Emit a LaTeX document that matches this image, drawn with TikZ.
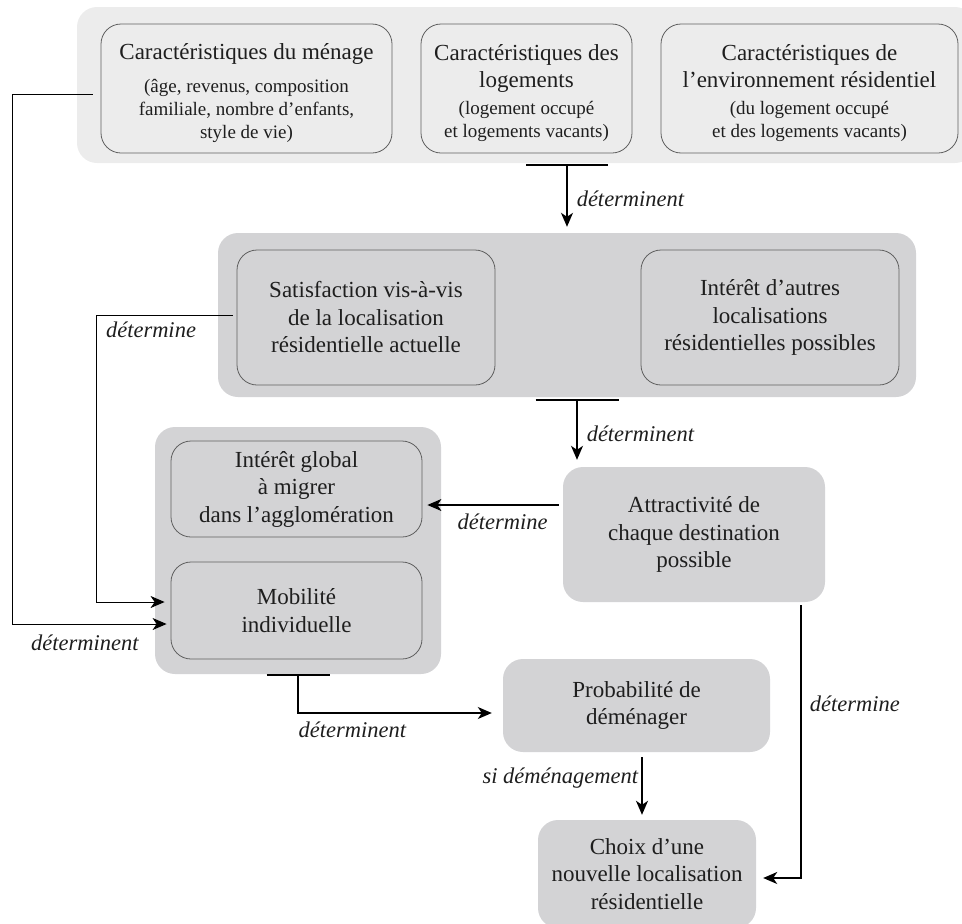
\documentclass[tikz,border=0pt]{standalone}
\usepackage{fontspec}
\setmainfont{Liberation Serif}
\usetikzlibrary{arrows.meta}
\tikzstyle{every link} = []
\tikzstyle{link} = [-{Stealth[length=14pt,width=12pt,inset=4pt]}, line width=1.5pt, draw, every link]
\tikzstyle{thin link} = [link, line width=1pt]
\tikzstyle{bar} = [line width=2.2pt]
\definecolor{clair}{RGB}{236,236,236}
\definecolor{moyen}{RGB}{211,211,213}
\definecolor{bord}{RGB}{95,95,95}
\definecolor{encre}{RGB}{30,30,30}
\newcommand{\principal}{\fontsize{23}{27.5}\selectfont}
\newcommand{\txtdetail}{\fontsize{19}{23}\selectfont}
\tikzstyle{groupe} = [rounded corners=20pt, inner sep=0pt]
\tikzstyle{boite} = [rounded corners=20pt, draw=bord, line width=0.8pt, align=center, inner sep=0pt, font=\principal, text=encre]
\tikzstyle{texte} = [align=center, inner sep=0pt, font=\principal, text=encre]
\tikzstyle{pave} = [rounded corners=20pt, fill=moyen, align=center, inner sep=0pt, font=\principal, text=encre]
\tikzstyle{etiq} = [font=\fontsize{22.5}{27}\selectfont\itshape, inner sep=2pt, text=encre]

\begin{document}
\begin{tikzpicture}[x=1pt, y=-1pt]
        \useasboundingbox (0,0) rectangle (962,924);

        \node[groupe, fill=clair, minimum width=898pt, minimum height=156pt] (carac) at (526,85) {};
        \node[groupe, fill=moyen, minimum width=698pt, minimum height=164pt] (evalu) at (567,315) {};
        \node[groupe, fill=moyen, minimum width=286pt, minimum height=247pt] (migr) at (298,550.5) {};

        \node[boite, fill=clair, minimum width=291pt, minimum height=129pt] (menage) at (246.5,88.5) {};
        \node[boite, fill=clair, minimum width=211pt, minimum height=129pt] (logement) at (526.5,88.5) {};
        \node[boite, fill=clair, minimum width=297pt, minimum height=129pt] (environ) at (809.5,88.5) {};
        \node[texte, yshift=-4.5pt] (menageT) at (menage)
            {Caractéristiques du ménage\\[5.5pt]\txtdetail (âge, revenus, composition\\[-4.5pt]\txtdetail familiale, nombre d’enfants,\\[-5pt]\txtdetail style de vie)};
        \node[texte, yshift=-4.5pt] (logementT) at (logement)
            {Caractéristiques des\\logements\\[-0.5pt]\txtdetail (logement occupé\\[-4.5pt]\txtdetail et logements vacants)};
        \node[texte, yshift=-4.5pt] (environT) at (environ)
            {Caractéristiques de\\l’environnement résidentiel\\[-0.5pt]\txtdetail (du logement occupé\\[-4.5pt]\txtdetail et des logements vacants)};

        \node[boite, fill=moyen, minimum width=258pt, minimum height=135pt] (satis) at (366,317.5) {Satisfaction vis-à-vis\\de la localisation\\résidentielle actuelle};
        \node[boite, fill=moyen, minimum width=258pt, minimum height=135pt] (autres) at (770,317.5) {Intérêt d’autres\\localisations\\résidentielles possibles};
        \node[boite, fill=moyen, minimum width=251pt, minimum height=96pt] (global) at (296.5,489) {Intérêt global\\à migrer\\dans l’agglomération};
        \node[boite, fill=moyen, minimum width=251pt, minimum height=97pt] (mobilite) at (296.5,610.5) {Mobilité\\individuelle};

        \node[pave, minimum width=262pt, minimum height=135pt] (attract) at (694,534.5) {Attractivité de\\chaque destination\\possible};
        \node[pave, minimum width=267pt, minimum height=93pt] (proba) at (636.5,705.5) {Probabilité de\\déménager};
        \node[pave, minimum width=218pt, minimum height=108pt] (choix) at (647,874) {Choix d’une\\nouvelle localisation\\résidentielle};

        \coordinate (barre1) at ([yshift=-2pt]carac.south -| evalu.north);
        \draw[bar] ([xshift=-41pt]barre1) -- ([xshift=41pt]barre1);
        \draw[link, shorten >=6pt] (barre1) -- node[right=7pt, etiq] {déterminent} (evalu.north);

        \coordinate (barre2) at ([xshift=10pt,yshift=-3pt]evalu.south);
        \draw[bar] ([xshift=-41.5pt]barre2) -- ([xshift=41.5pt]barre2);
        \draw[link, shorten >=7pt] (barre2) -- node[right=7pt, etiq] {déterminent} (barre2 |- attract.north);

        \coordinate (depart3) at ([yshift=29.5pt]attract.west);
        \draw[link, line width=1.2pt, shorten <=4pt, shorten >=5pt] (depart3) -- node[below=6pt, etiq, xshift=10pt] {détermine} (depart3 -| global.east);

        \coordinate (arriveeG) at ([xshift=-4pt,yshift=-13.5pt]mobilite.west);
        \draw[thin link] ([xshift=-8pt,yshift=-5.5pt]menage.west) -| ([xshift=-154pt]arriveeG) -- node[below=8pt, etiq, pos=0.47] {déterminent} (arriveeG);

        \coordinate (departS) at ([xshift=-4pt,yshift=2.5pt]satis.west);
        \coordinate (arriveeS) at ([xshift=-6pt,yshift=8.5pt]mobilite.west);
        \draw[thin link] (departS) -- node[below=4pt, etiq, pos=0.6] {détermine} ([xshift=-136pt]departS) |- (arriveeS);

        \coordinate (barre3) at ([yshift=-1pt]migr.south);
        \draw[bar] ([xshift=-31.5pt]barre3) -- ([xshift=31.5pt]barre3);
        \draw[link] (barre3) |- node[below=6pt, etiq, pos=0.64] {déterminent} ([xshift=-11pt,yshift=-7.5pt]proba.west);

        \coordinate (departP) at ([xshift=5.5pt]proba.south);
        \draw[link, line width=1.7pt, shorten <=5pt, shorten >=5pt] (departP) -- node[left=1pt, etiq, pos=0.38] {si déménagement} (departP |- choix.north);

        \coordinate (departA) at ([xshift=-24pt,yshift=-3pt]attract.south east);
        \draw[link] (departA) |- node[right=6pt, etiq, pos=0.18] {détermine} ([xshift=7pt,yshift=-4pt]choix.east);
\end{tikzpicture}
\end{document}
